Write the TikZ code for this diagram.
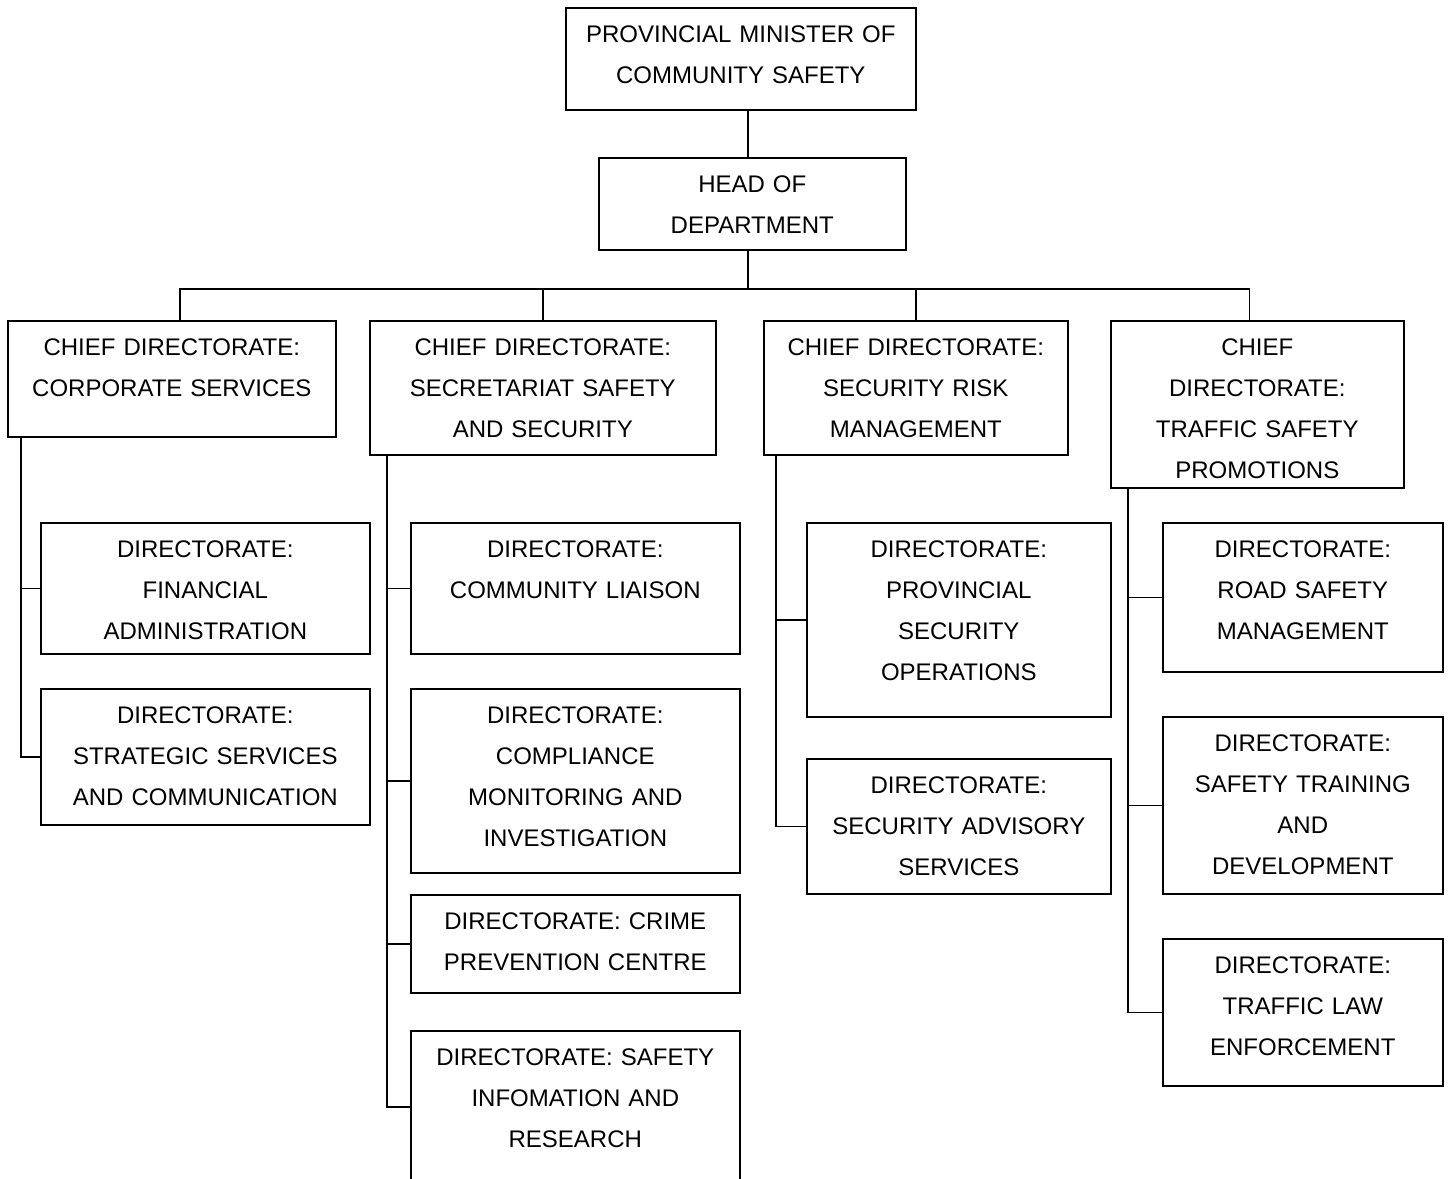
\documentclass[tikz,border=0pt]{standalone}
\usepackage{fontspec}
\setmainfont{Liberation Sans}
\usepackage{tikz}
\usetikzlibrary{positioning}

\begin{document}
\begin{tikzpicture}[
      x=0.5pt,y=-0.5pt,
      orgbox/.style={rectangle,draw,line width=0.8pt,anchor=north west,inner sep=0pt,align=center,text height=17.25pt,font=\fontsize{12}{20.5}\selectfont},
      link/.style={line width=0.8pt}
    ]
    \useasboundingbox (0,0) rectangle (1450,1178);
    % top of the chart
    \node[orgbox,text width=175pt,text depth=33.75pt] (minister) at (565,7) {PROVINCIAL MINISTER OF\\COMMUNITY SAFETY};
    \node[orgbox,text width=153.5pt,text depth=28.75pt] (hod) at (598,157) {HEAD OF\\DEPARTMENT};
    % chief directorates
    \node[orgbox,text width=164pt,text depth=40.75pt] (cd1) at (7,320) {CHIEF DIRECTORATE:\\CORPORATE SERVICES};
    \node[orgbox,text width=173pt,text depth=49.75pt] (cd2) at (369,320) {CHIEF DIRECTORATE:\\SECRETARIAT SAFETY\\AND SECURITY};
    \node[orgbox,text width=152pt,text depth=49.75pt] (cd3) at (763,320) {CHIEF DIRECTORATE:\\SECURITY RISK\\MANAGEMENT};
    \node[orgbox,text width=146.5pt,text depth=66.25pt] (cd4) at (1110,320) {CHIEF\\DIRECTORATE:\\TRAFFIC SAFETY\\PROMOTIONS};
    % directorates
    \node[orgbox,text width=164.5pt,text depth=48.25pt] (d1a) at (40,522) {DIRECTORATE:\\FINANCIAL\\ADMINISTRATION};
    \node[orgbox,text width=164.5pt,text depth=50.75pt] (d1b) at (40,688) {DIRECTORATE:\\STRATEGIC SERVICES\\AND COMMUNICATION};
    \node[orgbox,text width=164.5pt,text depth=48.25pt] (d2a) at (410,522) {DIRECTORATE:\\COMMUNITY LIAISON};
    \node[orgbox,text width=164.5pt,text depth=74.75pt] (d2b) at (410,688) {DIRECTORATE:\\COMPLIANCE\\MONITORING AND\\INVESTIGATION};
    \node[orgbox,text width=164.5pt,text depth=31.75pt] (d2c) at (410,894) {DIRECTORATE: CRIME\\PREVENTION CENTRE};
    \node[orgbox,text width=164.5pt,text depth=58.75pt] (d2d) at (410,1030) {DIRECTORATE: SAFETY\\INFOMATION AND\\RESEARCH};
    \node[orgbox,text width=152pt,text depth=79.75pt] (d3a) at (806,522) {DIRECTORATE:\\PROVINCIAL\\SECURITY\\OPERATIONS};
    \node[orgbox,text width=152pt,text depth=50.25pt] (d3b) at (806,758) {DIRECTORATE:\\SECURITY ADVISORY\\SERVICES};
    \node[orgbox,text width=140pt,text depth=57.25pt] (d4a) at (1162,522) {DIRECTORATE:\\ROAD SAFETY\\MANAGEMENT};
    \node[orgbox,text width=140pt,text depth=71.25pt] (d4b) at (1162,716) {DIRECTORATE:\\SAFETY TRAINING\\AND\\DEVELOPMENT};
    \node[orgbox,text width=140pt,text depth=56.25pt] (d4c) at (1162,938) {DIRECTORATE:\\TRAFFIC LAW\\ENFORCEMENT};
    % upper links
    \coordinate (bus) at (748,289);
    \draw[link] (minister.south -| bus) -- (hod.north -| bus);
    \draw[link] (hod.south -| bus) -- (bus);
    \draw[link] ([xshift=4pt]cd1.north) |- (bus) -| ([xshift=-4pt]cd4.north);
    \draw[link] (cd2.north) -- (cd2.north |- bus);
    \draw[link] (cd3.north) -- (cd3.north |- bus);
    % spines
    \coordinate (s1) at ([xshift=7pt]cd1.south west);
    \coordinate (s2) at ([xshift=9pt]cd2.south west);
    \coordinate (s3) at ([xshift=6.5pt]cd3.south west);
    \coordinate (s4) at ([xshift=9pt]cd4.south west);
    \draw[link] (s1) |- (d1b.west);
    \draw[link] (s1 |- d1a.west) -- (d1a.west);
    \draw[link] (s2) |- (d2d.west);
    \draw[link] (s2 |- d2a.west) -- (d2a.west);
    \draw[link] (s2 |- d2b.west) -- (d2b.west);
    \draw[link] (s2 |- d2c.west) -- (d2c.west);
    \draw[link] (s3) |- (d3b.west);
    \draw[link] (s3 |- d3a.west) -- (d3a.west);
    \draw[link] (s4) |- (d4c.west);
    \draw[link] (s4 |- d4a.west) -- (d4a.west);
    \draw[link] (s4 |- d4b.west) -- (d4b.west);
  \end{tikzpicture}
\end{document}
